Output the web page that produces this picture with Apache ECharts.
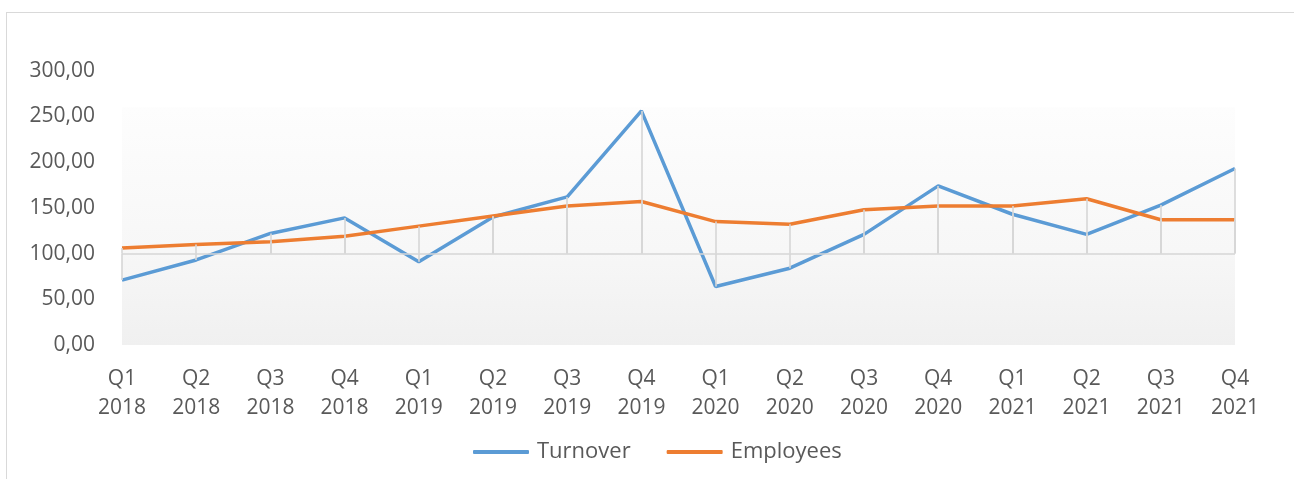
<!DOCTYPE html>
<html>
<head>
<meta charset="utf-8">
<script src="https://cdn.jsdelivr.net/npm/echarts@6/dist/echarts.min.js"></script>
<style>
  html, body { margin: 0; padding: 0; background: #fff; }
  #chart { width: 1294px; height: 479px; }
  .frame {
    position: absolute; left: 6px; top: 12px; width: 1400px; height: 600px;
    border-left: 1px solid #d9d9d9; border-top: 1px solid #d9d9d9;
    pointer-events: none;
  }
</style>
</head>
<body>
<div id="chart"></div>
<div class="frame"></div>
<script>
// quarters
const categories = [
  'Q1\n2018', 'Q2\n2018', 'Q3\n2018', 'Q4\n2018',
  'Q1\n2019', 'Q2\n2019', 'Q3\n2019', 'Q4\n2019',
  'Q1\n2020', 'Q2\n2020', 'Q3\n2020', 'Q4\n2020',
  'Q1\n2021', 'Q2\n2021', 'Q3\n2021', 'Q4\n2021'
]
const turnover = [71, 93, 122, 139, 91, 140, 162, 256, 64, 84, 121, 174, 143, 121, 153, 193]
const employees = [106, 110, 113, 119, 130, 141, 152, 157, 135, 132, 148, 152, 152, 160, 137, 137]
const baseValue = 100
const yTicks = [0, 50, 100, 150, 200, 250, 300]
const shadeTop = 260

const chart = echarts.init(document.getElementById('chart'))

// drop lines from each point to the 100 line
function dropLines() {
  const out = []
  categories.forEach((c, i) => {
    out.push([{ coord: [c, baseValue] }, { coord: [c, turnover[i]] }])
    out.push([{ coord: [c, baseValue] }, { coord: [c, employees[i]] }])
  })
  return out
}

const font = '"Open Sans", sans-serif'

const option = {
  animation: false,
  textStyle: { fontFamily: font },
  grid: { left: 122, right: 59, top: 70.7, bottom: 134 },
  legend: {
    data: ['Turnover', 'Employees'],
    left: 468,
    top: 436,
    icon: 'roundRect',
    itemWidth: 56,
    itemHeight: 4,
    itemGap: 36,
    textStyle: { fontSize: 22, color: '#595959', fontFamily: font, padding: [0, 0, 0, 3] }
  },
  xAxis: {
    type: 'category',
    data: categories,
    boundaryGap: false,
    axisLine: { show: false },
    axisTick: { show: false },
    splitLine: { show: false },
    axisLabel: {
      color: '#595959',
      fontSize: 21,
      fontFamily: font,
      lineHeight: 29.5,
      margin: 19,
      interval: 0
    }
  },
  yAxis: {
    type: 'value',
    min: yTicks[0],
    max: yTicks[yTicks.length - 1],
    interval: 50,
    axisLine: { show: false },
    axisTick: { show: false },
    splitLine: { show: false },
    axisLabel: {
      color: '#595959',
      fontSize: 21,
      fontFamily: font,
      margin: 27,
      formatter: v => v.toFixed(2).replace('.', ',')
    }
  },
  series: [
    {
      // background shading + grid-like lines
      name: 'bg',
      type: 'line',
      data: turnover,
      z: 1,
      silent: true,
      showSymbol: false,
      lineStyle: { opacity: 0 },
      markArea: {
        silent: true,
        itemStyle: {
          color: new echarts.graphic.LinearGradient(0, 0, 0, 1, [
            { offset: 0, color: '#fdfdfd' },
            { offset: 0.6, color: '#f7f7f7' },
            { offset: 1, color: '#f0f0f0' }
          ])
        },
        data: [[{ yAxis: 0 }, { yAxis: shadeTop }]]
      },
      markLine: {
        silent: true,
        symbol: 'none',
        label: { show: false },
        lineStyle: { color: '#d6d6d6', width: 1.6, type: 'solid' },
        data: [{ yAxis: baseValue }, ...dropLines()]
      }
    },
    {
      name: 'Turnover',
      type: 'line',
      data: turnover,
      z: 3,
      showSymbol: false,
      lineStyle: { color: '#5b9bd5', width: 3.5 },
      itemStyle: { color: '#5b9bd5' }
    },
    {
      name: 'Employees',
      type: 'line',
      data: employees,
      z: 4,
      showSymbol: false,
      lineStyle: { color: '#ed7d31', width: 3.5 },
      itemStyle: { color: '#ed7d31' }
    }
  ]
}

chart.setOption(option)
</script>
</body>
</html>
